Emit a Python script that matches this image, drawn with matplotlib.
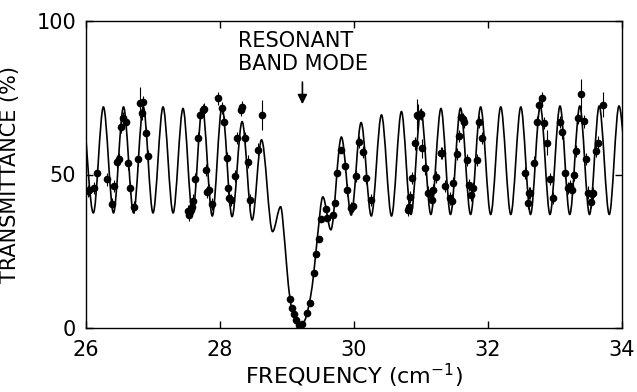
import matplotlib
matplotlib.use("Agg")
import matplotlib.pyplot as plt
from matplotlib.path import Path
from matplotlib.patches import PathPatch

# ---- theory curve: turning points / shape points ----
curve_x = [25.96, 26.11, 26.26, 26.41, 26.56, 26.71, 26.855, 27.00, 27.15, 27.30,
           27.448, 27.59, 27.736, 27.885, 28.03, 28.18, 28.33, 28.48, 28.62, 28.785,
           28.905, 28.97, 29.02, 29.07, 29.19, 29.27, 29.35, 29.40, 29.45, 29.535,
           29.655, 29.812, 29.958, 30.106, 30.258, 30.41, 30.56, 30.708, 30.85, 30.998,
           31.147, 31.298, 31.44, 31.59, 31.74, 31.89, 32.04, 32.19, 32.34, 32.49,
           32.635, 32.78, 32.925, 33.075, 33.22, 33.37, 33.515, 33.66, 33.81, 33.955,
           34.10]
curve_y = [72, 37.5, 72, 37.5, 72, 37.5, 72, 37.5, 72, 37.5,
           71.5, 37, 72, 36.5, 72, 36.3, 67.2, 35.2, 61.3, 31.4,
           39.5, 27, 14, 6.5, 0, 2.7, 10, 18, 28.7, 42.7,
           32, 62.2, 36.8, 66.9, 36.5, 69.4, 36.5, 70.5, 37, 71,
           37, 71.5, 37, 71.6, 37, 72, 37, 72, 37, 72,
           37, 72.3, 37, 72.3, 37, 72.3, 37, 72.3, 37, 72.3,
           37]

# ---- measured points ----
data_x = [26.03, 26.05, 26.12, 26.16, 26.32, 26.39, 26.42, 26.47, 26.49, 26.52,
          26.55, 26.59, 26.63, 26.66, 26.72, 26.78, 26.81, 26.84, 26.855, 26.90,
          26.93, 27.52, 27.54, 27.56, 27.58, 27.60, 27.62, 27.67, 27.70, 27.74,
          27.76, 27.79, 27.81, 27.84, 27.88, 27.97, 28.03, 28.06, 28.10, 28.12,
          28.14, 28.16, 28.22, 28.26, 28.31, 28.33, 28.37, 28.42, 28.45, 28.57,
          28.62, 29.05, 29.07, 29.10, 29.13, 29.18, 29.20, 29.22, 29.30, 29.35,
          29.40, 29.44, 29.48, 29.51, 29.58, 29.60, 29.68, 29.71, 29.75, 29.80,
          29.86, 29.90, 29.96, 29.98, 30.03, 30.07, 30.13, 30.18, 30.26, 30.81,
          30.82, 30.84, 30.87, 30.91, 30.94, 30.96, 31.00, 31.02, 31.06, 31.10,
          31.13, 31.16, 31.18, 31.22, 31.30, 31.32, 31.36, 31.44, 31.46, 31.48,
          31.53, 31.56, 31.59, 31.62, 31.64, 31.69, 31.72, 31.75, 31.78, 31.83,
          31.87, 31.91, 32.55, 32.59, 32.61, 32.63, 32.69, 32.73, 32.76, 32.81,
          32.84, 32.88, 32.93, 32.97, 33.07, 33.11, 33.15, 33.20, 33.22, 33.25,
          33.28, 33.31, 33.35, 33.39, 33.43, 33.46, 33.49, 33.53, 33.55, 33.57,
          33.61, 33.64, 33.72]
data_y = [44.7, 45.0, 45.5, 50.4, 48.4, 40.4, 46.3, 54.2, 55.0, 65.6,
          68.3, 67.2, 53.6, 45.7, 39.5, 54.9, 73.4, 69.9, 73.7, 63.6,
          55.9, 38.0, 36.8, 38.4, 39.5, 41.5, 48.4, 61.8, 69.4, 71.0,
          71.2, 51.5, 44.4, 45.0, 40.5, 74.8, 71.6, 67.2, 55.3, 45.5,
          42.2, 41.7, 49.6, 61.8, 71.0, 72.0, 61.8, 54.2, 41.7, 58.1,
          69.4, 9.3, 6.5, 4.5, 2.6, 1.0, 0.5, 1.2, 5.0, 8.2,
          18.0, 24.1, 28.9, 35.4, 38.7, 35.7, 36.8, 40.6, 50.4, 58.0,
          52.8, 45.0, 39.0, 39.9, 49.6, 60.7, 57.4, 48.8, 41.7, 38.4,
          39.5, 42.6, 48.8, 60.1, 69.5, 69.0, 69.7, 58.5, 52.0, 44.1,
          43.6, 41.7, 45.0, 49.1, 56.9, 57.0, 46.2, 42.2, 41.5, 47.3,
          56.7, 62.5, 68.8, 68.0, 67.2, 54.8, 46.6, 43.3, 45.5, 54.8,
          67.0, 61.8, 50.5, 40.8, 43.9, 44.0, 53.9, 67.0, 72.6, 74.8,
          66.8, 60.4, 48.6, 42.4, 67.2, 63.7, 50.6, 45.5, 46.3, 45.0,
          49.8, 57.6, 68.3, 76.1, 67.3, 55.1, 44.1, 41.1, 43.5, 44.0,
          57.7, 60.4, 72.8]
data_err = [2, 2, 2, 2, 2, 2, 2, 2, 2, 2,
            2, 2, 2, 2, 2, 2, 5, 2, 2, 2,
            2, 2, 2, 2, 2, 2, 2, 2, 2, 2,
            2, 2, 2, 2, 2, 2, 2, 2, 2, 2,
            2, 2, 2, 2, 2, 2, 2, 2, 2, 2,
            5, 1, 1, 1, 1, 1, 1, 1, 1, 1,
            1, 1, 1, 1, 1, 1, 1, 1, 1, 1,
            2, 2, 2, 2, 2, 2, 2, 2, 2, 2,
            2, 2, 2, 2, 5, 4, 2, 3, 2, 2,
            2, 2, 2, 2, 2, 2, 2, 2, 2, 2,
            2, 2, 2, 2, 2, 2, 2, 2, 2, 2,
            2, 2, 2, 2, 2, 2, 2, 2, 2, 2,
            2, 4, 2, 2, 2, 2, 2, 2, 2, 2,
            2, 2, 2, 5, 2, 2, 2, 2, 2, 2,
            2, 2, 4]

x_ticks = [26, 28, 30, 32, 34]
y_ticks = [0, 50, 100]

plt.rcParams['font.family'] = ['DejaVu Sans']

fig = plt.figure(figsize=(6.37, 3.92), dpi=100)
ax = fig.add_axes([86/637, 1-328/392, (622-86)/637, (328-21)/392])

# smooth curve through the read turning points (cubic Hermite segments)
n = len(curve_x)
slopes = []
for i in range(n):
    if i == 0:
        m = (curve_y[1]-curve_y[0])/(curve_x[1]-curve_x[0])
    elif i == n-1:
        m = (curve_y[-1]-curve_y[-2])/(curve_x[-1]-curve_x[-2])
    else:
        d0 = (curve_y[i]-curve_y[i-1])/(curve_x[i]-curve_x[i-1])
        d1 = (curve_y[i+1]-curve_y[i])/(curve_x[i+1]-curve_x[i])
        m = 0.0 if d0*d1 <= 0 else 2.0/(1.0/d0 + 1.0/d1)
    slopes.append(m)
verts = [(curve_x[0], curve_y[0])]
codes = [Path.MOVETO]
for i in range(n-1):
    h = curve_x[i+1]-curve_x[i]
    verts += [(curve_x[i]+h/3, curve_y[i]+slopes[i]*h/3),
              (curve_x[i+1]-h/3, curve_y[i+1]-slopes[i+1]*h/3),
              (curve_x[i+1], curve_y[i+1])]
    codes += [Path.CURVE4]*3
patch = PathPatch(Path(verts, codes), facecolor='none', edgecolor='black', lw=1.2)
ax.add_patch(patch)
patch.set_clip_on(True)

ax.errorbar(data_x, data_y, yerr=data_err, fmt='o', color='black', ms=4.5,
            elinewidth=0.8, capsize=0, zorder=3)

ax.set_xlim(26, 34)
ax.set_ylim(0, 100)
ax.set_xticks(x_ticks)
ax.set_xticklabels([str(v) for v in x_ticks])
ax.set_yticks(y_ticks)
ax.set_yticklabels([str(v) for v in y_ticks])
ax.tick_params(axis='both', direction='in', length=5, width=1, labelsize=15,
               top=True, right=True)
ax.tick_params(axis='x', pad=9)
ax.tick_params(axis='y', pad=7)
for s in ax.spines.values():
    s.set_linewidth(1.0)

ax.set_xlabel('FREQUENCY (cm$^{-1}$)', fontsize=16, labelpad=1)
ax.set_ylabel('TRANSMITTANCE (%)', fontsize=15, labelpad=12)

ax.text(28.27, 93.5, 'RESONANT', fontsize=15, ha='left', va='center')
ax.text(28.27, 86.0, 'BAND MODE', fontsize=15, ha='left', va='center')
ax.annotate('', xy=(29.23, 72), xytext=(29.23, 81),
            arrowprops=dict(arrowstyle='-|>', color='black', lw=1.2,
                            mutation_scale=14))

fig.savefig('out.png', dpi=100)
